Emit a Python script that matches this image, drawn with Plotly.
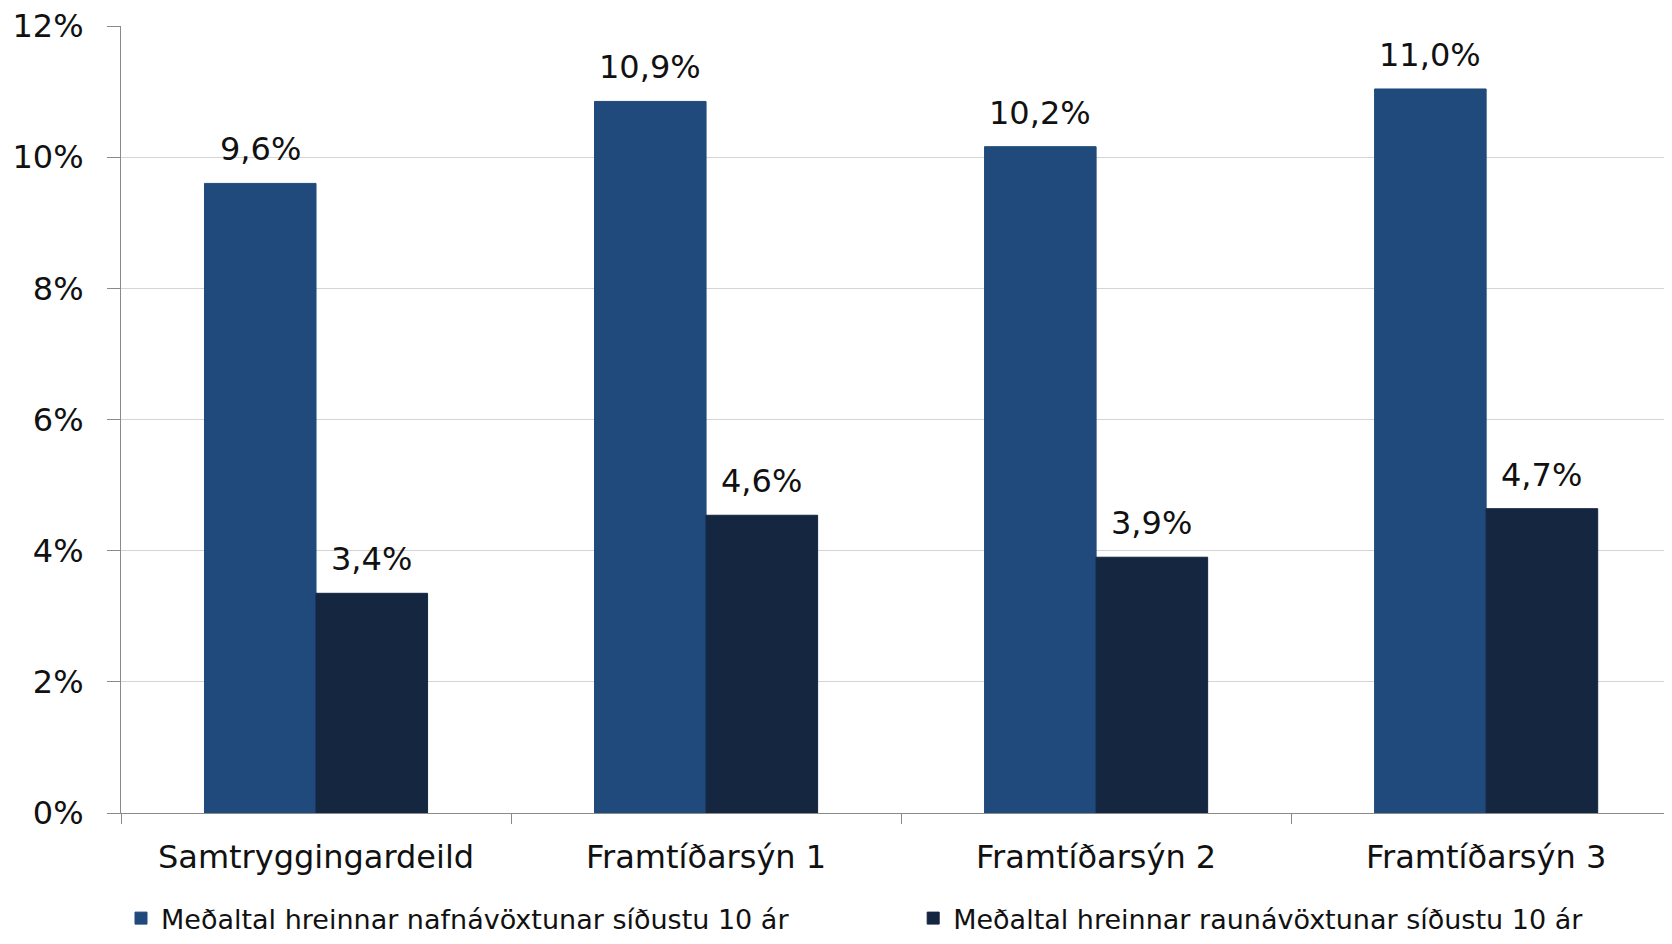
import plotly.graph_objects as go

categories = ["Samtryggingardeild", "Framtíðarsýn 1", "Framtíðarsýn 2", "Framtíðarsýn 3"]
nafn_values = [9.6, 10.85, 10.16, 11.04]
raun_values = [3.35, 4.54, 3.90, 4.64]
nafn_labels = ["9,6%", "10,9%", "10,2%", "11,0%"]
raun_labels = ["3,4%", "4,6%", "3,9%", "4,7%"]
y_ticks = [0, 2, 4, 6, 8, 10, 12]
y_tick_labels = ["0%", "2%", "4%", "6%", "8%", "10%", "12%"]

font = "DejaVu Sans"
blue = "#214A7C"
navy = "#142640"
bargap = 0.428
half = (1 - bargap) / 4
x_range = [-0.5, 3.456]

fig = go.Figure()

fig.add_trace(go.Bar(
    x=list(range(len(categories))),
    y=nafn_values,
    name="Meðaltal hreinnar nafnávöxtunar síðustu 10 ár",
    marker=dict(color=blue, line=dict(color=blue, width=1)),
    legend="legend",
    showlegend=True,
))
fig.add_trace(go.Bar(
    x=list(range(len(categories))),
    y=raun_values,
    name="Meðaltal hreinnar raunávöxtunar síðustu 10 ár",
    marker=dict(color=navy, line=dict(color=navy, width=1)),
    legend="legend2",
    showlegend=True,
))

# data labels above the bars
for i in range(len(categories)):
    for val, lab, off in [(nafn_values[i], nafn_labels[i], -half), (raun_values[i], raun_labels[i], half)]:
        fig.add_annotation(
            x=i + off, y=val, text=lab,
            showarrow=False, yanchor="bottom", yshift=13,
            font=dict(family=font, size=32, color="#111"),
        )

legend_style = dict(
    orientation="h",
    xanchor="left",
    y=-0.103,
    yanchor="top",
    font=dict(family=font, size=27, color="#111"),
    itemwidth=30,
    bgcolor="rgba(0,0,0,0)",
)

# page body adds an 8px margin, so the figure is 16px smaller than the window
fig.update_layout(
    width=1656,
    height=928,
    margin=dict(l=113, r=0, t=18, b=123, autoexpand=False),
    plot_bgcolor="white",
    paper_bgcolor="white",
    barmode="group",
    bargap=bargap,
    bargroupgap=0,
    showlegend=True,
    font=dict(family=font, color="#111"),
    legend=dict(x=0.0, **legend_style),
    legend2=dict(x=0.5134, **legend_style),
)

fig.update_xaxes(
    tickmode="array",
    tickvals=list(range(len(categories))),
    ticktext=categories,
    range=x_range,
    showline=True,
    linecolor="#8a8a8a",
    linewidth=1,
    ticks="",
    tickfont=dict(family=font, size=32, color="#111"),
    ticklabelstandoff=16,
    showgrid=False,
    zeroline=False,
    automargin=False,
)

# category boundary tick marks on the x axis
fig.update_layout(
    xaxis2=dict(
        overlaying="x",
        range=x_range,
        tickmode="array",
        tickvals=[-0.5, 0.5, 1.5, 2.5, 3.5],
        ticks="outside",
        ticklen=10,
        tickcolor="#8a8a8a",
        showticklabels=False,
        showgrid=False,
        zeroline=False,
        side="bottom",
        anchor="y",
        automargin=False,
    )
)
fig.add_trace(go.Scatter(x=[], y=[], xaxis="x2", showlegend=False))

fig.update_yaxes(
    range=[0, 12.0001],
    tickmode="array",
    tickvals=y_ticks,
    ticktext=y_tick_labels,
    showline=True,
    linecolor="#8a8a8a",
    linewidth=1,
    ticks="outside",
    ticklen=13,
    tickcolor="#8a8a8a",
    showgrid=True,
    gridcolor="#d4d4d4",
    gridwidth=1,
    zeroline=False,
    tickfont=dict(family=font, size=32, color="#111"),
    ticklabelstandoff=17,
    ticklabeloverflow="allow",
    automargin=False,
)

fig.write_html("out.html")
